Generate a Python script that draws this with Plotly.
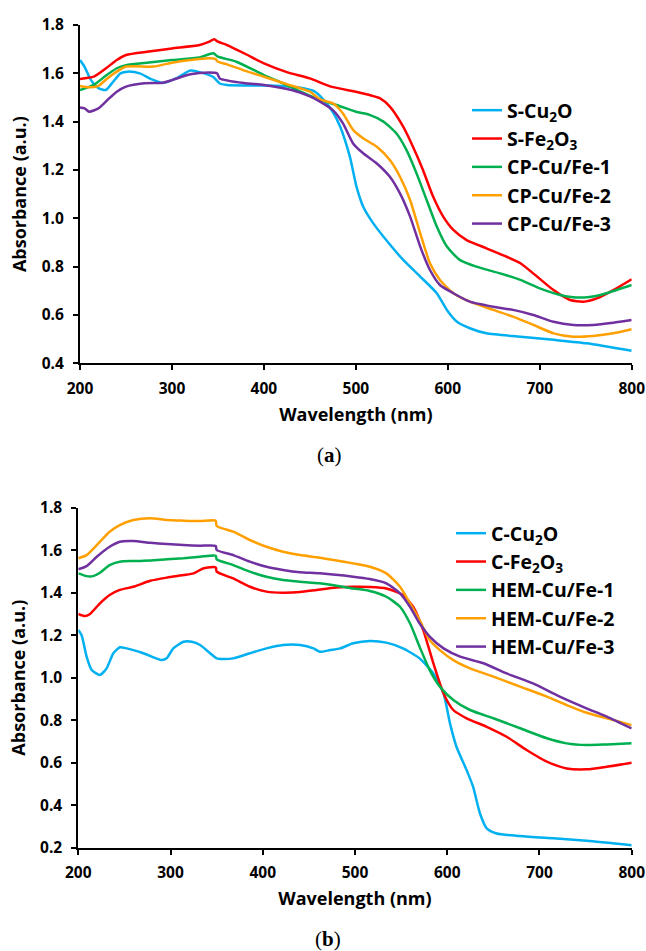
import plotly.graph_objects as go

# ---------------- (a) data ----------------
a_s_cu2o_x = [200, 205, 212, 220, 228, 236, 244, 252, 265, 278, 290, 305, 320, 335, 345, 352, 360, 380, 400, 420, 440, 455, 465, 475, 483, 493.5, 500.7, 508, 519, 533, 551.5, 570, 588, 599, 610, 624, 642, 679, 715, 751, 800]
a_s_cu2o_y = [1.655, 1.627, 1.572, 1.539, 1.531, 1.565, 1.600, 1.607, 1.600, 1.575, 1.560, 1.580, 1.612, 1.600, 1.585, 1.558, 1.552, 1.550, 1.550, 1.548, 1.540, 1.525, 1.490, 1.440, 1.379, 1.255, 1.131, 1.048, 0.979, 0.910, 0.828, 0.759, 0.690, 0.621, 0.572, 0.545, 0.524, 0.510, 0.497, 0.483, 0.452]

a_s_fe2o3_x = [200, 215, 228, 240, 250, 275, 300, 330, 340, 346, 350, 360, 380, 400, 425, 450, 473, 500, 515, 526, 537, 551.5, 562, 573, 584, 595, 606, 620.5, 642, 664, 679, 697, 715, 733, 747.5, 762, 780, 800]
a_s_fe2o3_y = [1.577, 1.586, 1.620, 1.655, 1.676, 1.690, 1.703, 1.717, 1.730, 1.741, 1.731, 1.717, 1.680, 1.641, 1.605, 1.579, 1.545, 1.524, 1.510, 1.497, 1.462, 1.379, 1.297, 1.200, 1.090, 1.007, 0.952, 0.910, 0.876, 0.841, 0.814, 0.759, 0.703, 0.662, 0.655, 0.669, 0.703, 0.748]

a_cp1_x = [200, 215, 228, 240, 250, 275, 300, 330, 345, 350, 370, 400, 420, 440, 461, 479, 500, 515, 530, 544, 555, 566, 577, 588, 599, 613, 631, 657, 679, 700, 722, 744, 766, 800]
a_cp1_y = [1.531, 1.552, 1.590, 1.621, 1.634, 1.645, 1.655, 1.666, 1.683, 1.669, 1.648, 1.593, 1.560, 1.524, 1.490, 1.469, 1.441, 1.428, 1.400, 1.352, 1.283, 1.186, 1.076, 0.966, 0.883, 0.828, 0.800, 0.772, 0.745, 0.710, 0.683, 0.672, 0.683, 0.724]

a_cp2_x = [200, 210, 220, 230, 240, 250, 280, 300, 320, 340, 347, 350, 360, 380, 400, 425, 450, 461, 475, 486, 497, 508, 522.5, 537, 548, 559, 570, 580.6, 591.5, 606, 624, 649.5, 671, 693, 715, 736.6, 758, 780, 800]
a_cp2_y = [1.548, 1.542, 1.548, 1.580, 1.607, 1.628, 1.628, 1.644, 1.655, 1.662, 1.660, 1.648, 1.637, 1.610, 1.586, 1.555, 1.524, 1.492, 1.476, 1.434, 1.366, 1.331, 1.297, 1.241, 1.172, 1.076, 0.938, 0.814, 0.745, 0.690, 0.655, 0.621, 0.593, 0.559, 0.524, 0.510, 0.513, 0.524, 0.541]

a_cp3_x = [200, 205, 210, 220, 230, 240, 250, 270, 290, 300, 320, 340, 349, 352, 380, 400, 430, 450, 461, 475, 486, 497, 508, 522.5, 537, 548, 559, 570, 580.6, 591.5, 606, 624, 649.5, 671, 693, 715, 736.6, 758, 780, 800]
a_cp3_y = [1.459, 1.455, 1.441, 1.455, 1.490, 1.524, 1.545, 1.559, 1.561, 1.572, 1.596, 1.603, 1.600, 1.579, 1.559, 1.552, 1.531, 1.505, 1.483, 1.448, 1.393, 1.310, 1.269, 1.228, 1.172, 1.103, 1.007, 0.883, 0.786, 0.724, 0.690, 0.655, 0.634, 0.621, 0.600, 0.572, 0.559, 0.559, 0.568, 0.579]

# ---------------- (b) data ----------------
b_c_cu2o_x = [200, 203.6, 209, 214.5, 223.5, 230.7, 238, 245, 252.4, 259.7, 270.5, 281.4, 290.4, 295.8, 303, 314, 323, 332, 342.9, 350, 357, 368, 386, 404, 422, 440.5, 455, 462, 473, 484, 498, 516, 534, 552, 570, 585, 596, 603, 610, 621, 628, 635.5, 642.8, 653.6, 679, 715, 751, 800]
b_c_cu2o_y = [1.224, 1.200, 1.099, 1.036, 1.013, 1.044, 1.115, 1.143, 1.138, 1.130, 1.115, 1.096, 1.083, 1.091, 1.138, 1.169, 1.169, 1.154, 1.115, 1.091, 1.088, 1.091, 1.115, 1.138, 1.154, 1.154, 1.138, 1.122, 1.130, 1.138, 1.162, 1.173, 1.165, 1.138, 1.091, 1.020, 0.926, 0.785, 0.675, 0.565, 0.487, 0.361, 0.291, 0.267, 0.255, 0.244, 0.233, 0.212]

b_c_fe2o3_x = [200, 207, 212.7, 223.5, 234, 245, 259.7, 278, 296, 314, 325, 336, 349, 350, 368, 386, 404, 422, 440.5, 458.6, 480, 498, 516, 534, 552, 563, 574, 585, 596, 606.6, 621, 642.8, 664.4, 686, 708, 729.5, 751, 773, 800]
b_c_fe2o3_y = [1.300, 1.290, 1.300, 1.350, 1.389, 1.413, 1.428, 1.456, 1.471, 1.483, 1.491, 1.515, 1.519, 1.499, 1.467, 1.428, 1.405, 1.400, 1.403, 1.413, 1.424, 1.428, 1.427, 1.420, 1.389, 1.334, 1.224, 1.067, 0.926, 0.848, 0.809, 0.769, 0.722, 0.660, 0.605, 0.573, 0.569, 0.581, 0.600]

b_hem1_x = [200, 209, 216, 223.5, 234, 245, 259.7, 278, 296, 314, 332, 349, 350, 368, 386, 404, 422, 440.5, 462, 498, 516, 534, 548.8, 559.6, 570, 581, 592, 606.6, 624.7, 650, 679, 708, 729.5, 751, 773, 800]
b_hem1_y = [1.491, 1.478, 1.478, 1.494, 1.530, 1.546, 1.549, 1.551, 1.557, 1.562, 1.569, 1.574, 1.557, 1.530, 1.499, 1.475, 1.460, 1.452, 1.444, 1.420, 1.408, 1.381, 1.334, 1.256, 1.146, 1.036, 0.958, 0.895, 0.848, 0.809, 0.762, 0.715, 0.691, 0.683, 0.686, 0.691]

b_hem2_x = [200, 209, 220, 234, 245, 259.7, 278, 296, 314, 332, 349, 350, 368, 386, 404, 422, 440.5, 462, 498, 516, 534, 548.8, 559.6, 570, 581, 592, 606.6, 624.7, 650, 679, 708, 729.5, 751, 773, 800]
b_hem2_y = [1.562, 1.577, 1.624, 1.687, 1.718, 1.742, 1.750, 1.742, 1.739, 1.737, 1.739, 1.714, 1.687, 1.648, 1.616, 1.593, 1.577, 1.565, 1.538, 1.522, 1.491, 1.428, 1.350, 1.271, 1.177, 1.130, 1.083, 1.044, 1.005, 0.958, 0.911, 0.871, 0.835, 0.809, 0.777]

b_hem3_x = [200, 209, 220, 234, 245, 259.7, 278, 296, 314, 332, 349, 350, 368, 386, 404, 422, 440.5, 462, 498, 516, 534, 548.8, 559.6, 570, 581, 596, 614, 640, 664.4, 693, 722, 751, 773, 800]
b_hem3_y = [1.510, 1.525, 1.569, 1.616, 1.640, 1.643, 1.635, 1.629, 1.624, 1.621, 1.620, 1.601, 1.577, 1.546, 1.522, 1.507, 1.496, 1.491, 1.475, 1.464, 1.444, 1.397, 1.334, 1.256, 1.193, 1.138, 1.099, 1.067, 1.020, 0.973, 0.911, 0.856, 0.817, 0.761]

names_a = ["S-Cu<sub>2</sub>O", "S-Fe<sub>2</sub>O<sub>3</sub>", "CP-Cu/Fe-1", "CP-Cu/Fe-2", "CP-Cu/Fe-3"]
names_b = ["C-Cu<sub>2</sub>O", "C-Fe<sub>2</sub>O<sub>3</sub>", "HEM-Cu/Fe-1", "HEM-Cu/Fe-2", "HEM-Cu/Fe-3"]
colors = ["#00B0F0", "#FF0000", "#00B050", "#FFA000", "#7030A0"]

x_ticks = [200, 300, 400, 500, 600, 700, 800]
y_ticks_a = [0.4, 0.6, 0.8, 1.0, 1.2, 1.4, 1.6, 1.8]
y_ticks_b = [0.2, 0.4, 0.6, 0.8, 1.0, 1.2, 1.4, 1.6, 1.8]

series_a = [(a_s_cu2o_x, a_s_cu2o_y), (a_s_fe2o3_x, a_s_fe2o3_y), (a_cp1_x, a_cp1_y), (a_cp2_x, a_cp2_y), (a_cp3_x, a_cp3_y)]
series_b = [(b_c_cu2o_x, b_c_cu2o_y), (b_c_fe2o3_x, b_c_fe2o3_y), (b_hem1_x, b_hem1_y), (b_hem2_x, b_hem2_y), (b_hem3_x, b_hem3_y)]

W, H = 646, 951
X_RIGHT = 631.7

fig = go.Figure()
for (xs, ys), nm, c in zip(series_a, names_a, colors):
    fig.add_trace(go.Scatter(x=xs, y=ys, name=nm, mode="lines",
                             line=dict(color=c, width=2.5, shape="spline", smoothing=0.6),
                             xaxis="x", yaxis="y", legend="legend"))
for (xs, ys), nm, c in zip(series_b, names_b, colors):
    fig.add_trace(go.Scatter(x=xs, y=ys, name=nm, mode="lines",
                             line=dict(color=c, width=2.5, shape="spline", smoothing=0.6),
                             xaxis="x2", yaxis="y2", legend="legend2"))

tick_font = dict(family="Open Sans", size=15.5, color="black", weight="bold")
title_font = dict(family="Open Sans", size=18, color="black", weight="bold")
leg_font = dict(family="Open Sans", size=19.5, color="black", weight="bold")

common_x = dict(range=[200, 800], tickvals=x_ticks, showline=True, linecolor="black", linewidth=2,
                ticks="outside", ticklen=5, tickwidth=2, tickcolor="black", showgrid=False,
                zeroline=False, tickfont=tick_font, automargin=False, ticklabelstandoff=5)
common_y = dict(showline=True, linecolor="black", linewidth=2, ticks="outside", ticklen=5,
                tickwidth=2, tickcolor="black", showgrid=False, zeroline=False, tickfont=tick_font,
                tickformat=".1f", automargin=False, ticklabelstandoff=6)

fig.update_layout(
    width=W, height=H, margin=dict(l=0, r=0, t=0, b=0),
    paper_bgcolor="white", plot_bgcolor="white",
    xaxis=dict(domain=[80 / W, X_RIGHT / W], anchor="y",
               title=dict(text="Wavelength (nm)", font=title_font, standoff=10), **common_x),
    yaxis=dict(domain=[1 - 363.3 / H, 1 - 25 / H], anchor="x", range=[0.4, 1.8], tickvals=y_ticks_a,
               title=dict(text="Absorbance (a.u.)", font=title_font, standoff=10), **common_y),
    xaxis2=dict(domain=[78.3 / W, X_RIGHT / W], anchor="y2",
                title=dict(text="Wavelength (nm)", font=title_font, standoff=10), **common_x),
    yaxis2=dict(domain=[1 - 847.7 / H, 1 - 507.7 / H], anchor="x2", range=[0.2, 1.8], tickvals=y_ticks_b,
                title=dict(text="Absorbance (a.u.)", font=title_font, standoff=10), **common_y),
    legend=dict(x=467 / W, y=1 - 91 / H, xanchor="left", yanchor="top", font=leg_font,
                bgcolor="rgba(0,0,0,0)", itemwidth=30, tracegroupgap=0),
    legend2=dict(x=451 / W, y=1 - 514 / H, xanchor="left", yanchor="top", font=leg_font,
                 bgcolor="rgba(0,0,0,0)", itemwidth=30, tracegroupgap=0),
    annotations=[
        dict(text="(<b>a</b>)", x=329 / W, y=1 - 455 / H, xref="paper", yref="paper",
             xanchor="center", yanchor="middle", showarrow=False,
             font=dict(family="Liberation Serif", size=21, color="black")),
        dict(text="(<b>b</b>)", x=328 / W, y=1 - 939 / H, xref="paper", yref="paper",
             xanchor="center", yanchor="middle", showarrow=False,
             font=dict(family="Liberation Serif", size=21, color="black")),
    ],
)

fig.write_html("out.html", config={"displayModeBar": False},
               post_script="document.body.style.margin='0';document.body.style.overflow='hidden';")
